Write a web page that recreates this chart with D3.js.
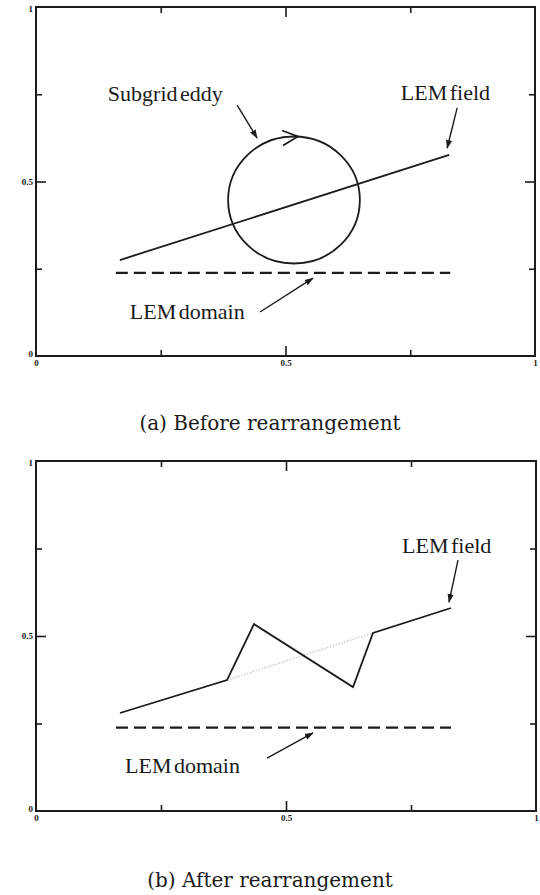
<!DOCTYPE html>
<html>
<head>
<meta charset="utf-8">
<script src="https://cdn.jsdelivr.net/npm/d3@7"></script>
<style>
  body { margin: 0; background: #fff; }
  svg { display: block; }
</style>
</head>
<body>
<svg id="chart" width="540" height="895"></svg>
<script>
// Axis ticks and labels (unit square on both axes)
const tickValues = [0.25, 0.5, 0.75];
const labelValues = [0, 0.5, 1];
const tickLabels = ["0", "0.5", "1"];

// LEM field before the rearrangement: a straight linear profile
const fieldBeforeX = [0.168, 0.828];
const fieldBeforeY = [0.275, 0.576];

// LEM field after the triplet-map rearrangement
const fieldAfterX = [0.168, 0.382, 0.436, 0.634, 0.674, 0.830];
const fieldAfterY = [0.280, 0.374, 0.534, 0.354, 0.509, 0.580];

// Original profile over the rearranged segment (shown faintly)
const movedSegmentX = [0.382, 0.674];
const movedSegmentY = [0.374, 0.509];

// LEM domain (dashed line)
const domainX = [0.16, 0.83];
const domainY = [0.238, 0.238];

// Subgrid eddy (circle): centre and radii in data units
const eddyCenter = [0.517, 0.447];
const eddyRadius = [0.132, 0.182];

// Annotations: text, text anchor point, arrow start and end (data units)
const notesBefore = ["Subgrid eddy", "LEM field", "LEM domain"];
const notesBeforeAt = [[0.144, 0.731], [0.731, 0.734], [0.188, 0.106]];
const arrowsBefore = [[0.403, 0.719, 0.443, 0.625], [0.844, 0.711, 0.824, 0.596], [0.449, 0.126, 0.555, 0.223]];

const notesAfter = ["LEM field", "LEM domain"];
const notesAfterAt = [[0.732, 0.737], [0.178, 0.109]];
const arrowsAfter = [[0.844, 0.717, 0.826, 0.597], [0.462, 0.151, 0.554, 0.223]];

const captions = ["(a) Before rearrangement", "(b) After rearrangement"];

const INK = "#1b1b1b";
const svg = d3.select("#chart");

svg.append("defs").append("marker")
  .attr("id", "head")
  .attr("viewBox", "0 0 10 10")
  .attr("refX", 9).attr("refY", 5)
  .attr("markerWidth", 9).attr("markerHeight", 9)
  .attr("markerUnits", "userSpaceOnUse")
  .attr("orient", "auto")
  .append("path")
  .attr("d", "M0,1.5 L10,5 L0,8.5 Z")
  .attr("fill", INK);

const panels = [
  { left: 36, right: 535, top: 7, bottom: 356, captionY: 430 },
  { left: 36, right: 536, top: 461, bottom: 811, captionY: 887 }
];

function frame(p) {
  const x = d3.scaleLinear().domain([0, 1]).range([p.left, p.right]);
  const y = d3.scaleLinear().domain([0, 1]).range([p.bottom, p.top]);
  const g = svg.append("g");

  const minor = 6, major = 10;
  const styleTicks = (sel, vertical) => {
    sel.select(".domain").remove();
    sel.selectAll(".tick line")
      .attr("stroke", INK).attr("stroke-width", 1.6)
      .each(function (d) {
        const len = d === 0.5 ? major : minor;
        const line = d3.select(this);
        if (vertical) line.attr("x2", +line.attr("x2") > 0 ? len : -len);
        else line.attr("y2", +line.attr("y2") > 0 ? len : -len);
      });
  };

  g.append("g").attr("transform", `translate(0,${p.bottom})`)
    .call(d3.axisBottom(x).tickValues(tickValues).tickFormat("").tickSizeOuter(0).tickSize(-minor))
    .call(s => styleTicks(s, false));
  g.append("g").attr("transform", `translate(0,${p.top})`)
    .call(d3.axisTop(x).tickValues(tickValues).tickFormat("").tickSizeOuter(0).tickSize(-minor))
    .call(s => styleTicks(s, false));
  g.append("g").attr("transform", `translate(${p.left},0)`)
    .call(d3.axisLeft(y).tickValues(tickValues).tickFormat("").tickSizeOuter(0).tickSize(-minor))
    .call(s => styleTicks(s, true));
  g.append("g").attr("transform", `translate(${p.right},0)`)
    .call(d3.axisRight(y).tickValues(tickValues).tickFormat("").tickSizeOuter(0).tickSize(-minor))
    .call(s => styleTicks(s, true));

  // tick labels
  const labelStyle = s => {
    s.select(".domain").remove();
    s.selectAll(".tick line").remove();
    s.selectAll("text")
      .attr("font-family", "'Liberation Serif', 'Times New Roman', serif")
      .attr("font-size", 9).attr("font-weight", "bold").attr("fill", INK);
  };
  g.append("g").attr("transform", `translate(0,${p.bottom})`)
    .call(d3.axisBottom(x).tickValues(labelValues).tickFormat((d, i) => tickLabels[i]).tickSize(0).tickPadding(4))
    .call(labelStyle);
  g.append("g").attr("transform", `translate(${p.left},0)`)
    .call(d3.axisLeft(y).tickValues(labelValues).tickFormat((d, i) => tickLabels[i]).tickSize(0).tickPadding(3))
    .call(labelStyle)
    .selectAll("text").attr("dy", (d) => d === 1 ? "0.55em" : d === 0 ? "0.1em" : "0.32em");

  g.append("rect")
    .attr("x", p.left).attr("y", p.top)
    .attr("width", p.right - p.left).attr("height", p.bottom - p.top)
    .attr("fill", "none").attr("stroke", INK).attr("stroke-width", 2);

  return { g, x, y };
}

function drawLine(g, x, y, xs, ys, attrs) {
  const line = d3.line().x(d => x(d[0])).y(d => y(d[1]));
  const path = g.append("path").datum(d3.zip(xs, ys))
    .attr("d", line).attr("fill", "none")
    .attr("stroke", INK).attr("stroke-width", 1.8)
    .attr("stroke-linejoin", "miter");
  Object.entries(attrs || {}).forEach(([k, v]) => path.attr(k, v));
  return path;
}

function drawNotes(g, x, y, texts, at, arrows) {
  g.selectAll(null).data(texts).join("text")
    .attr("x", (d, i) => x(at[i][0])).attr("y", (d, i) => y(at[i][1]))
    .attr("font-family", "'Liberation Serif', 'Times New Roman', serif")
    .attr("font-size", 22).attr("fill", INK)
    .attr("word-spacing", -3)
    .text(d => d);
  g.selectAll(null).data(arrows).join("line")
    .attr("x1", d => x(d[0])).attr("y1", d => y(d[1]))
    .attr("x2", d => x(d[2])).attr("y2", d => y(d[3]))
    .attr("stroke", INK).attr("stroke-width", 1.4)
    .attr("marker-end", "url(#head)");
}

function caption(p, text) {
  svg.append("text")
    .attr("x", 270).attr("y", p.captionY)
    .attr("text-anchor", "middle")
    .attr("font-family", "'DejaVu Serif', serif")
    .attr("font-size", 20).attr("fill", INK)
    .text(text);
}

// ---- (a) before rearrangement ----
{
  const { g, x, y } = frame(panels[0]);
  drawLine(g, x, y, domainX, domainY, { "stroke-dasharray": "12,6", "stroke-width": 2.2 });
  drawLine(g, x, y, fieldBeforeX, fieldBeforeY);

  const cx = x(eddyCenter[0]), cy = y(eddyCenter[1]);
  const rx = x(eddyRadius[0]) - x(0), ry = y(0) - y(eddyRadius[1]);
  g.append("ellipse")
    .attr("cx", cx).attr("cy", cy).attr("rx", rx).attr("ry", ry)
    .attr("fill", "none").attr("stroke", INK).attr("stroke-width", 1.8);
  // rotation chevron at the top of the eddy, pointing clockwise
  const tipX = cx + 4, tipY = cy - ry;
  g.append("path")
    .attr("d", `M${tipX - 16},${tipY - 6} L${tipX},${tipY} L${tipX - 15},${tipY + 9}`)
    .attr("fill", "none").attr("stroke", INK).attr("stroke-width", 1.8);

  drawNotes(g, x, y, notesBefore, notesBeforeAt, arrowsBefore);
  caption(panels[0], captions[0]);
}

// ---- (b) after rearrangement ----
{
  const { g, x, y } = frame(panels[1]);
  drawLine(g, x, y, domainX, domainY, { "stroke-dasharray": "12,6", "stroke-width": 2.2 });
  drawLine(g, x, y, movedSegmentX, movedSegmentY, { stroke: "#cfcfcf", "stroke-dasharray": "1.5,1.5", "stroke-width": 1.6 });
  drawLine(g, x, y, fieldAfterX, fieldAfterY);
  drawNotes(g, x, y, notesAfter, notesAfterAt, arrowsAfter);
  caption(panels[1], captions[1]);
}
</script>
</body>
</html>
